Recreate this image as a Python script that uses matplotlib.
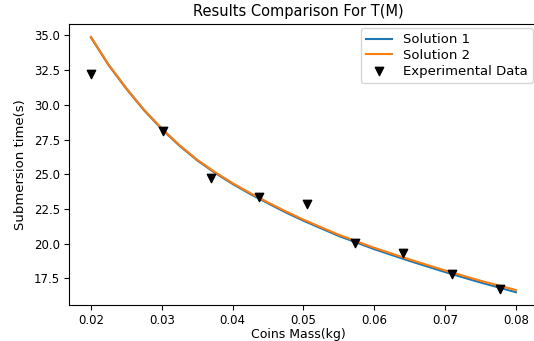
import matplotlib
matplotlib.use("Agg")
import matplotlib.pyplot as plt

# curve samples
mass_curve = [0.0200, 0.0225, 0.0250, 0.0275, 0.0300, 0.0325, 0.0350, 0.0375,
              0.0400, 0.0425, 0.0450, 0.0475, 0.0500, 0.0550, 0.0600, 0.0650,
              0.0700, 0.0750, 0.0800]
t_solution1 = [34.85, 32.85, 31.15, 29.60, 28.25, 27.05, 26.00, 25.10,
               24.30, 23.57, 22.90, 22.25, 21.65, 20.55, 19.60, 18.75,
               17.95, 17.20, 16.50]
t_solution2 = [34.90, 32.90, 31.20, 29.65, 28.30, 27.10, 26.05, 25.16,
               24.36, 23.64, 22.97, 22.33, 21.73, 20.64, 19.70, 18.86,
               18.07, 17.33, 16.66]

# measured points
mass_exp = [0.0200, 0.0302, 0.0369, 0.0437, 0.0505, 0.0573, 0.0641, 0.0709, 0.0777]
t_exp = [32.20, 28.13, 24.75, 23.38, 22.84, 20.04, 19.32, 17.83, 16.73]

fig = plt.figure(figsize=(5.34, 3.41), dpi=100)
# right edge of the axes runs past the picture, as in the cropped original
ax = fig.add_axes([69 / 534, 36 / 341, 476 / 534, 281 / 341])

ax.plot(mass_curve, t_solution1, label="Solution 1")
ax.plot(mass_curve, t_solution2, label="Solution 2")
ax.scatter(mass_exp, t_exp, marker="v", color="black", s=36, label="Experimental Data", zorder=3)

ax.set_xlim(0.0169, 0.0841)
ax.set_ylim(15.58, 35.82)

ax.set_title("Results Comparison For T(M)", fontsize=10.5)
ax.title.set_x(0.481)
ax.set_xlabel("Coins Mass(kg)", fontsize=9, labelpad=1)
ax.xaxis.label.set_x(0.481)
ax.set_ylabel("Submersion time(s)", fontsize=9.5, labelpad=5)
ax.tick_params(labelsize=8.5, pad=3)
ax.legend(loc="upper right", fontsize=9.5, labelspacing=0.2,
          bbox_to_anchor=(533 / 534, 1 - 28 / 341), bbox_transform=fig.transFigure,
          borderaxespad=0)

fig.savefig("out.png", dpi=100)
